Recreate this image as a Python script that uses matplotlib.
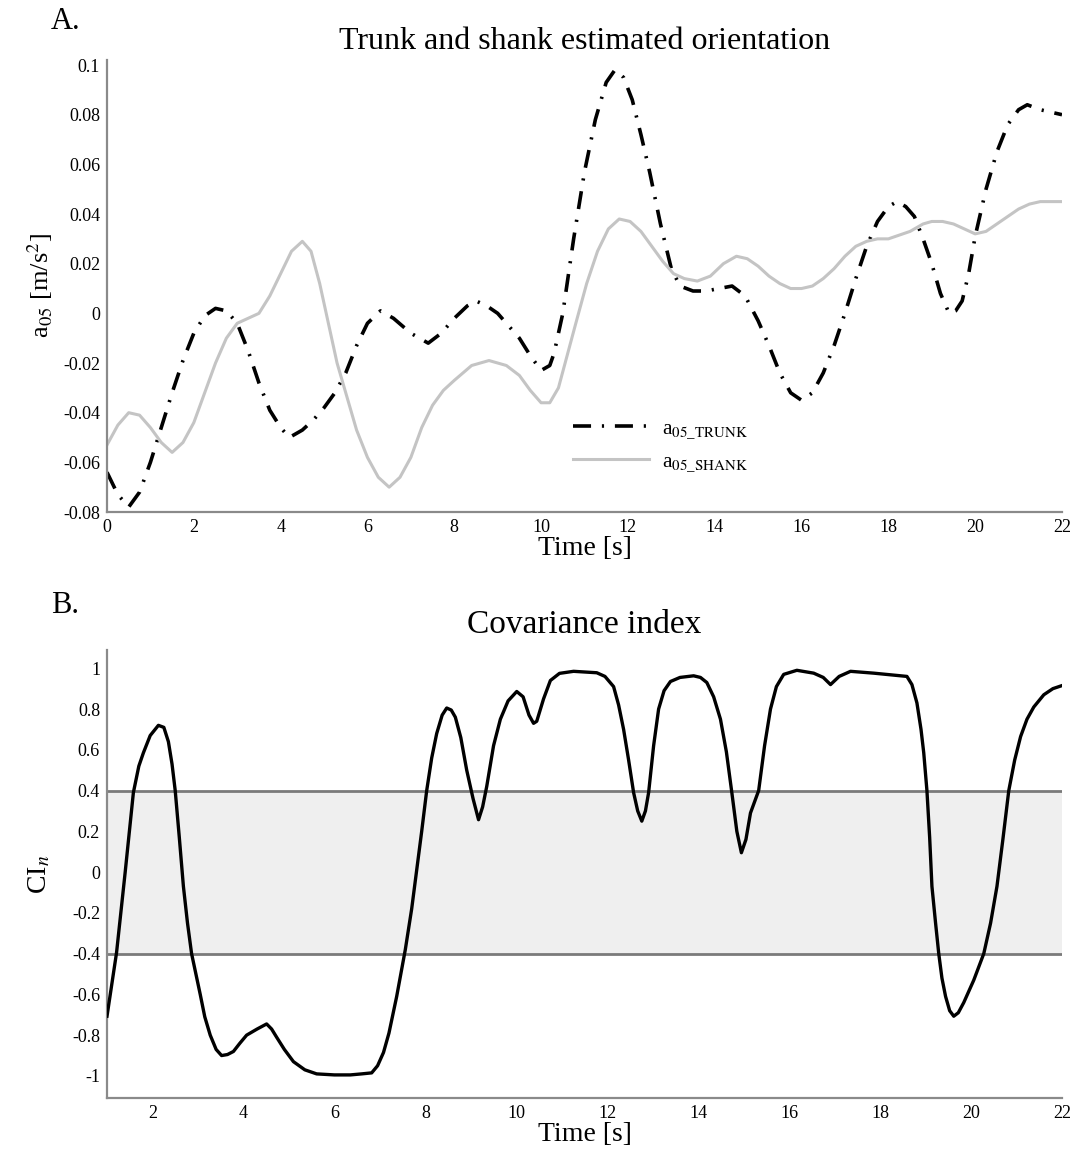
import matplotlib
matplotlib.use("Agg")
import matplotlib.pyplot as plt

plt.rcParams['font.family'] = ['Liberation Serif', 'DejaVu Serif']
plt.rcParams['mathtext.fontset'] = 'stix'

# ---- Panel A data ----
trunk_t = [0, 0.25, 0.5, 0.75, 1.0, 1.25, 1.5, 1.75, 2.0, 2.25, 2.5, 2.75, 3.0, 3.25, 3.5, 3.75,
           4.0, 4.2, 4.5, 4.75, 5.0, 5.25, 5.5, 5.75, 6.0, 6.3, 6.6, 7.0, 7.4, 7.7, 8.0, 8.3, 8.5,
           8.75, 9.0, 9.25, 9.5, 9.75, 10.0, 10.2, 10.3, 10.5, 10.75, 11.0, 11.25, 11.5, 11.7,
           11.9, 12.1, 12.3, 12.5, 12.75, 13.0, 13.2, 13.5, 13.8, 14.1, 14.4, 14.7, 15.0, 15.25,
           15.5, 15.75, 16.0, 16.25, 16.5, 16.75, 17.0, 17.25, 17.5, 17.75, 18.0, 18.2, 18.4,
           18.6, 18.8, 19.0, 19.2, 19.4, 19.55, 19.7, 19.85, 20.0, 20.25, 20.5, 20.75, 21.0, 21.2,
           21.5, 21.75, 22.0]
trunk_v = [-0.064, -0.073, -0.078, -0.072, -0.060, -0.046, -0.032, -0.019, -0.008, -0.001, 0.002,
           0.001, -0.004, -0.015, -0.028, -0.039, -0.046, -0.050, -0.047, -0.043, -0.038, -0.032,
           -0.024, -0.013, -0.004, 0.001, -0.002, -0.008, -0.012, -0.008, -0.002, 0.003, 0.005,
           0.003, 0.000, -0.005, -0.010, -0.017, -0.023, -0.021, -0.016, 0.000, 0.030, 0.057,
           0.078, 0.093, 0.098, 0.095, 0.086, 0.072, 0.057, 0.036, 0.018, 0.011, 0.009, 0.009,
           0.010, 0.011, 0.007, -0.003, -0.013, -0.024, -0.032, -0.035, -0.032, -0.024, -0.013,
           0.000, 0.014, 0.027, 0.037, 0.043, 0.045, 0.043, 0.039, 0.030, 0.020, 0.008, 0.000,
           0.001, 0.005, 0.016, 0.031, 0.050, 0.065, 0.076, 0.082, 0.084, 0.082, 0.081, 0.080]

shank_t = [0, 0.25, 0.5, 0.75, 1.0, 1.25, 1.5, 1.75, 2.0, 2.25, 2.5, 2.75, 3.0, 3.25, 3.5, 3.75,
           4.0, 4.25, 4.5, 4.7, 4.9, 5.1, 5.3, 5.5, 5.75, 6.0, 6.25, 6.5, 6.75, 7.0, 7.25, 7.5,
           7.75, 8.0, 8.4, 8.8, 9.2, 9.5, 9.75, 10.0, 10.2, 10.4, 10.6, 10.8, 11.05, 11.3, 11.55,
           11.8, 12.05, 12.3, 12.55, 12.8, 13.05, 13.3, 13.6, 13.9, 14.2, 14.5, 14.75, 15.0,
           15.25, 15.5, 15.75, 16.0, 16.25, 16.5, 16.75, 17.0, 17.25, 17.5, 17.75, 18.0, 18.5,
           18.8, 19.0, 19.25, 19.5, 19.75, 20.0, 20.25, 20.5, 20.75, 21.0, 21.25, 21.5, 21.75,
           22.0]
shank_v = [-0.053, -0.045, -0.040, -0.041, -0.046, -0.052, -0.056, -0.052, -0.044, -0.032, -0.020,
           -0.010, -0.004, -0.002, 0.000, 0.007, 0.016, 0.025, 0.029, 0.025, 0.012, -0.004,
           -0.020, -0.032, -0.047, -0.058, -0.066, -0.070, -0.066, -0.058, -0.046, -0.037,
           -0.031, -0.027, -0.021, -0.019, -0.021, -0.025, -0.031, -0.036, -0.036, -0.030,
           -0.017, -0.004, 0.012, 0.025, 0.034, 0.038, 0.037, 0.033, 0.027, 0.021, 0.016, 0.014,
           0.013, 0.015, 0.020, 0.023, 0.022, 0.019, 0.015, 0.012, 0.010, 0.010, 0.011, 0.014,
           0.018, 0.023, 0.027, 0.029, 0.030, 0.030, 0.033, 0.036, 0.037, 0.037, 0.036, 0.034,
           0.032, 0.033, 0.036, 0.039, 0.042, 0.044, 0.045, 0.045, 0.045]

# ---- Panel B data ----
ci_t = [1.0, 1.1, 1.21, 1.4, 1.58, 1.7, 1.8, 1.95, 2.13, 2.25, 2.35, 2.43, 2.5, 2.59, 2.68, 2.77,
        2.86, 3.05, 3.15, 3.27, 3.4, 3.52, 3.65, 3.78, 3.92, 4.07, 4.3, 4.51, 4.62, 4.73, 4.9,
        5.1, 5.35, 5.61, 6.0, 6.35, 6.6, 6.82, 6.95, 7.08, 7.2, 7.37, 7.56, 7.7, 7.81, 7.92,
        8.03, 8.14, 8.25, 8.37, 8.47, 8.57, 8.66, 8.78, 8.91, 9.05, 9.17, 9.26, 9.35, 9.5, 9.65,
        9.82, 10.01, 10.15, 10.28, 10.38, 10.45, 10.6, 10.75, 10.95, 11.26, 11.77, 11.95, 12.14,
        12.25, 12.36, 12.47, 12.58, 12.67, 12.76, 12.84, 12.91, 13.02, 13.13, 13.25, 13.39,
        13.6, 13.9, 14.05, 14.19, 14.34, 14.49, 14.62, 14.74, 14.85, 14.95, 15.05, 15.15,
        15.33, 15.46, 15.59, 15.72, 15.88, 16.17, 16.54, 16.75, 16.91, 17.1, 17.35, 17.86,
        18.23, 18.59, 18.7, 18.81, 18.9, 18.96, 19.03, 19.09, 19.14, 19.22, 19.29, 19.36,
        19.44, 19.53, 19.62, 19.72, 19.84, 20.06, 20.28, 20.43, 20.57, 20.7, 20.83, 20.96,
        21.09, 21.23, 21.38, 21.6, 21.8, 22.0]
ci_v = [-0.707, -0.56, -0.395, 0.0, 0.39, 0.52, 0.585, 0.67, 0.72, 0.71, 0.64, 0.53, 0.40, 0.17,
        -0.07, -0.25, -0.40, -0.60, -0.71, -0.80, -0.87, -0.90, -0.895, -0.88, -0.84, -0.80,
        -0.77, -0.745, -0.77, -0.81, -0.87, -0.93, -0.97, -0.99, -0.995, -0.995, -0.99, -0.985,
        -0.95, -0.885, -0.79, -0.61, -0.38, -0.18, 0.01, 0.20, 0.40, 0.56, 0.68, 0.77, 0.805,
        0.795, 0.76, 0.66, 0.50, 0.36, 0.257, 0.32, 0.42, 0.62, 0.75, 0.84, 0.886, 0.86, 0.77,
        0.73, 0.74, 0.85, 0.94, 0.975, 0.985, 0.978, 0.96, 0.91, 0.82, 0.70, 0.55, 0.39, 0.30,
        0.25, 0.30, 0.39, 0.62, 0.80, 0.89, 0.935, 0.955, 0.963, 0.955, 0.93, 0.86, 0.75, 0.59,
        0.39, 0.20, 0.095, 0.16, 0.29, 0.40, 0.62, 0.80, 0.91, 0.97, 0.99, 0.976, 0.955, 0.92,
        0.96, 0.985, 0.976, 0.968, 0.96, 0.92, 0.83, 0.70, 0.585, 0.40, 0.17, -0.07, -0.25,
        -0.40, -0.52, -0.61, -0.68, -0.707, -0.69, -0.64, -0.53, -0.40, -0.25, -0.07, 0.16,
        0.40, 0.55, 0.665, 0.75, 0.81, 0.87, 0.90, 0.915]
band_lo, band_hi = -0.4, 0.4

xticks_a = list(range(0, 23, 2))
yticks_a = [-0.08, -0.06, -0.04, -0.02, 0, 0.02, 0.04, 0.06, 0.08, 0.1]
ytick_labels_a = ['-0.08', '-0.06', '-0.04', '-0.02', '0', '0.02', '0.04', '0.06', '0.08', '0.1']
xticks_b = list(range(2, 23, 2))
yticks_b = [-1, -0.8, -0.6, -0.4, -0.2, 0, 0.2, 0.4, 0.6, 0.8, 1]
ytick_labels_b = ['-1', '-0.8', '-0.6', '-0.4', '-0.2', '0', '0.2', '0.4', '0.6', '0.8', '1']

fig = plt.figure(figsize=(10.83, 11.55), dpi=100)
axA = fig.add_axes([0.0988, 0.5567, 0.8818, 0.3913])
axB = fig.add_axes([0.0988, 0.0494, 0.8818, 0.3879])

spine_color = '#8a8a8a'
for ax in (axA, axB):
    for s in ('top', 'right'):
        ax.spines[s].set_visible(False)
    for s in ('left', 'bottom'):
        ax.spines[s].set_color(spine_color)
        ax.spines[s].set_linewidth(1.6)
    ax.tick_params(length=0, labelsize=13, pad=5)

# Panel A
axA.plot(trunk_t, trunk_v, color='black', lw=2.6, linestyle=(0, (5, 3, 0.6, 3)),
         solid_joinstyle='round', dash_joinstyle='round',
         label=r'a$_{\mathrm{05\_TRUNK}}$')
axA.plot(shank_t, shank_v, color='#c4c4c4', lw=2.2, solid_joinstyle='round',
         label=r'a$_{\mathrm{05\_SHANK}}$')
axA.set_xlim(0, 22)
axA.set_ylim(-0.08, 0.102)
axA.set_xticks(xticks_a)
axA.set_yticks(yticks_a)
axA.set_yticklabels(ytick_labels_a)
axA.set_xlabel('Time [s]', fontsize=20, labelpad=0)
axA.set_ylabel(r'a$_{05}$ [m/s$^2$]', fontsize=19, labelpad=6)
axA.set_title('Trunk and shank estimated orientation', fontsize=23, pad=8)
axA.legend(loc='upper left', bbox_to_anchor=(0.468, 0.25), frameon=False, fontsize=15.5,
           handlelength=3.5, handletextpad=0.6, labelspacing=0.5)
fig.text(0.047, 0.981, 'A.', fontsize=22, ha='left', va='center')

# Panel B
axB.axhspan(band_lo, band_hi, color='#efefef', zorder=0, lw=0)
axB.axhline(band_hi, color='#7a7a7a', lw=2.0, zorder=1)
axB.axhline(band_lo, color='#7a7a7a', lw=2.0, zorder=1)
axB.plot(ci_t, ci_v, color='black', lw=2.4, zorder=3, solid_joinstyle='round')
axB.set_xlim(1.0, 22)
axB.set_ylim(-1.108, 1.09)
axB.set_xticks(xticks_b)
axB.set_yticks(yticks_b)
axB.set_yticklabels(ytick_labels_b)
axB.set_xlabel('Time [s]', fontsize=20, labelpad=0)
axB.set_ylabel(r'CI$_{n}$', fontsize=20, labelpad=14)
axB.set_title('Covariance index', fontsize=24, pad=12)
fig.text(0.047, 0.476, 'B.', fontsize=22, ha='left', va='center')

fig.savefig('out.png', dpi=100)
